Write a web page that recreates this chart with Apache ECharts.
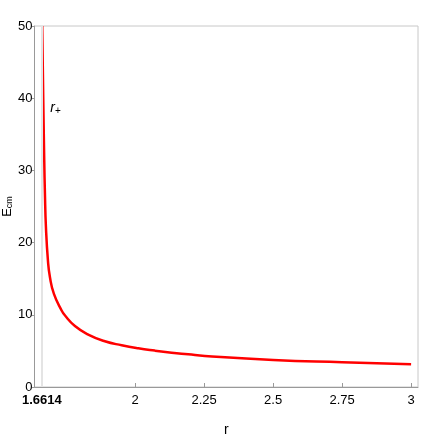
<!DOCTYPE html>
<html>
<head>
<meta charset="utf-8">
<script src="https://cdn.jsdelivr.net/npm/echarts@6/dist/echarts.min.js"></script>
<style>
  html, body { margin: 0; padding: 0; background: #fff; }
  #chart { width: 436px; height: 436px; }
</style>
</head>
<body>
<div id="chart"></div>
<script>
  // values
  var rValues = [1.663, 1.6667, 1.6703, 1.6728, 1.6764, 1.6837, 1.691, 1.7054, 1.7333, 1.745, 1.7815, 1.8297, 1.89, 1.951, 2.011, 2.071, 2.132, 2.192, 2.2525, 2.5, 2.75, 3.0];
  var ecmValues = [50, 40, 31.4, 26.8, 22.2, 17.5, 15.2, 12.9, 10.6, 9.93, 8.45, 7.26, 6.33, 5.78, 5.36, 5.04, 4.76, 4.53, 4.30, 3.74, 3.42, 3.14];
  var xTicks = [1.6614, 2, 2.25, 2.5, 2.75, 3];
  var rPlus = 1.6614;

  var font = "'Liberation Sans Narrow', 'Liberation Sans', Arial, sans-serif";

  var seriesData = rValues.map(function (r, i) {
    return [r, ecmValues[i]];
  });

  var chart = echarts.init(document.getElementById('chart'));

  chart.setOption({
    animation: false,
    grid: {
      left: 34.5,
      right: 18,
      top: 26,
      bottom: 49,
      outerBoundsMode: 'none',
      containLabel: false,
      show: true,
      borderColor: '#c8c8c8',
      borderWidth: 1
    },
    xAxis: {
      type: 'value',
      min: 1.635,
      max: 3.025,
      name: 'r',
      nameLocation: 'middle',
      nameGap: 36,
      nameMoveOverlap: false,
      nameTextStyle: { fontFamily: font, fontSize: 14, color: '#000' },
      axisLine: { lineStyle: { color: '#999', width: 1 } },
      axisTick: {
        show: true,
        inside: true,
        length: 4,
        customValues: xTicks,
        lineStyle: { color: '#999' }
      },
      axisLabel: {
        customValues: xTicks,
        margin: 7,
        fontFamily: font,
        fontSize: 13,
        color: '#000',
        formatter: function (v) {
          if (Math.abs(v - rPlus) < 1e-6) return '{b|1.6614}';
          return String(v);
        },
        rich: {
          b: { fontFamily: font, fontSize: 13, fontWeight: 'bold', color: '#000' }
        }
      },
      splitLine: { show: false }
    },
    yAxis: {
      type: 'value',
      min: 0,
      max: 50,
      interval: 10,
      name: '{e|E}{s|cm}',
      nameLocation: 'middle',
      nameRotate: 90,
      nameGap: 20,
      nameMoveOverlap: false,
      nameTextStyle: {
        rich: {
          e: { fontFamily: font, fontSize: 13, lineHeight: 14, color: '#000' },
          s: { fontFamily: font, fontSize: 9, lineHeight: 14, color: '#000', verticalAlign: 'bottom', padding: [4, 0, 0, 0] }
        }
      },
      axisLine: { show: true, lineStyle: { color: '#999', width: 1 } },
      axisTick: { show: true, inside: false, length: 3, lineStyle: { color: '#999' } },
      axisLabel: {
        margin: 2,
        fontFamily: font,
        fontSize: 13,
        color: '#000'
      },
      splitLine: { show: false }
    },
    series: [{
      type: 'line',
      data: seriesData,
      smooth: 0.5,
      showSymbol: false,
      clip: true,
      lineStyle: { color: '#ff0000', width: 2.5 },
      markLine: {
        silent: true,
        symbol: 'none',
        label: { show: false },
        lineStyle: { color: '#e4e4e4', width: 2, type: 'solid' },
        data: [{ xAxis: rPlus }]
      },
      markPoint: {
        silent: true,
        symbol: 'circle',
        symbolSize: 0,
        data: [{ coord: [1.711, 38.6] }],
        label: {
          show: true,
          position: 'inside',
          formatter: '{r|r}{p|+}',
          rich: {
            r: { fontFamily: font, fontSize: 14, fontStyle: 'italic', color: '#000' },
            p: { fontFamily: font, fontSize: 10, color: '#000', verticalAlign: 'bottom', padding: [6, 0, 0, 0] }
          }
        }
      }
    }]
  });
</script>
</body>
</html>
